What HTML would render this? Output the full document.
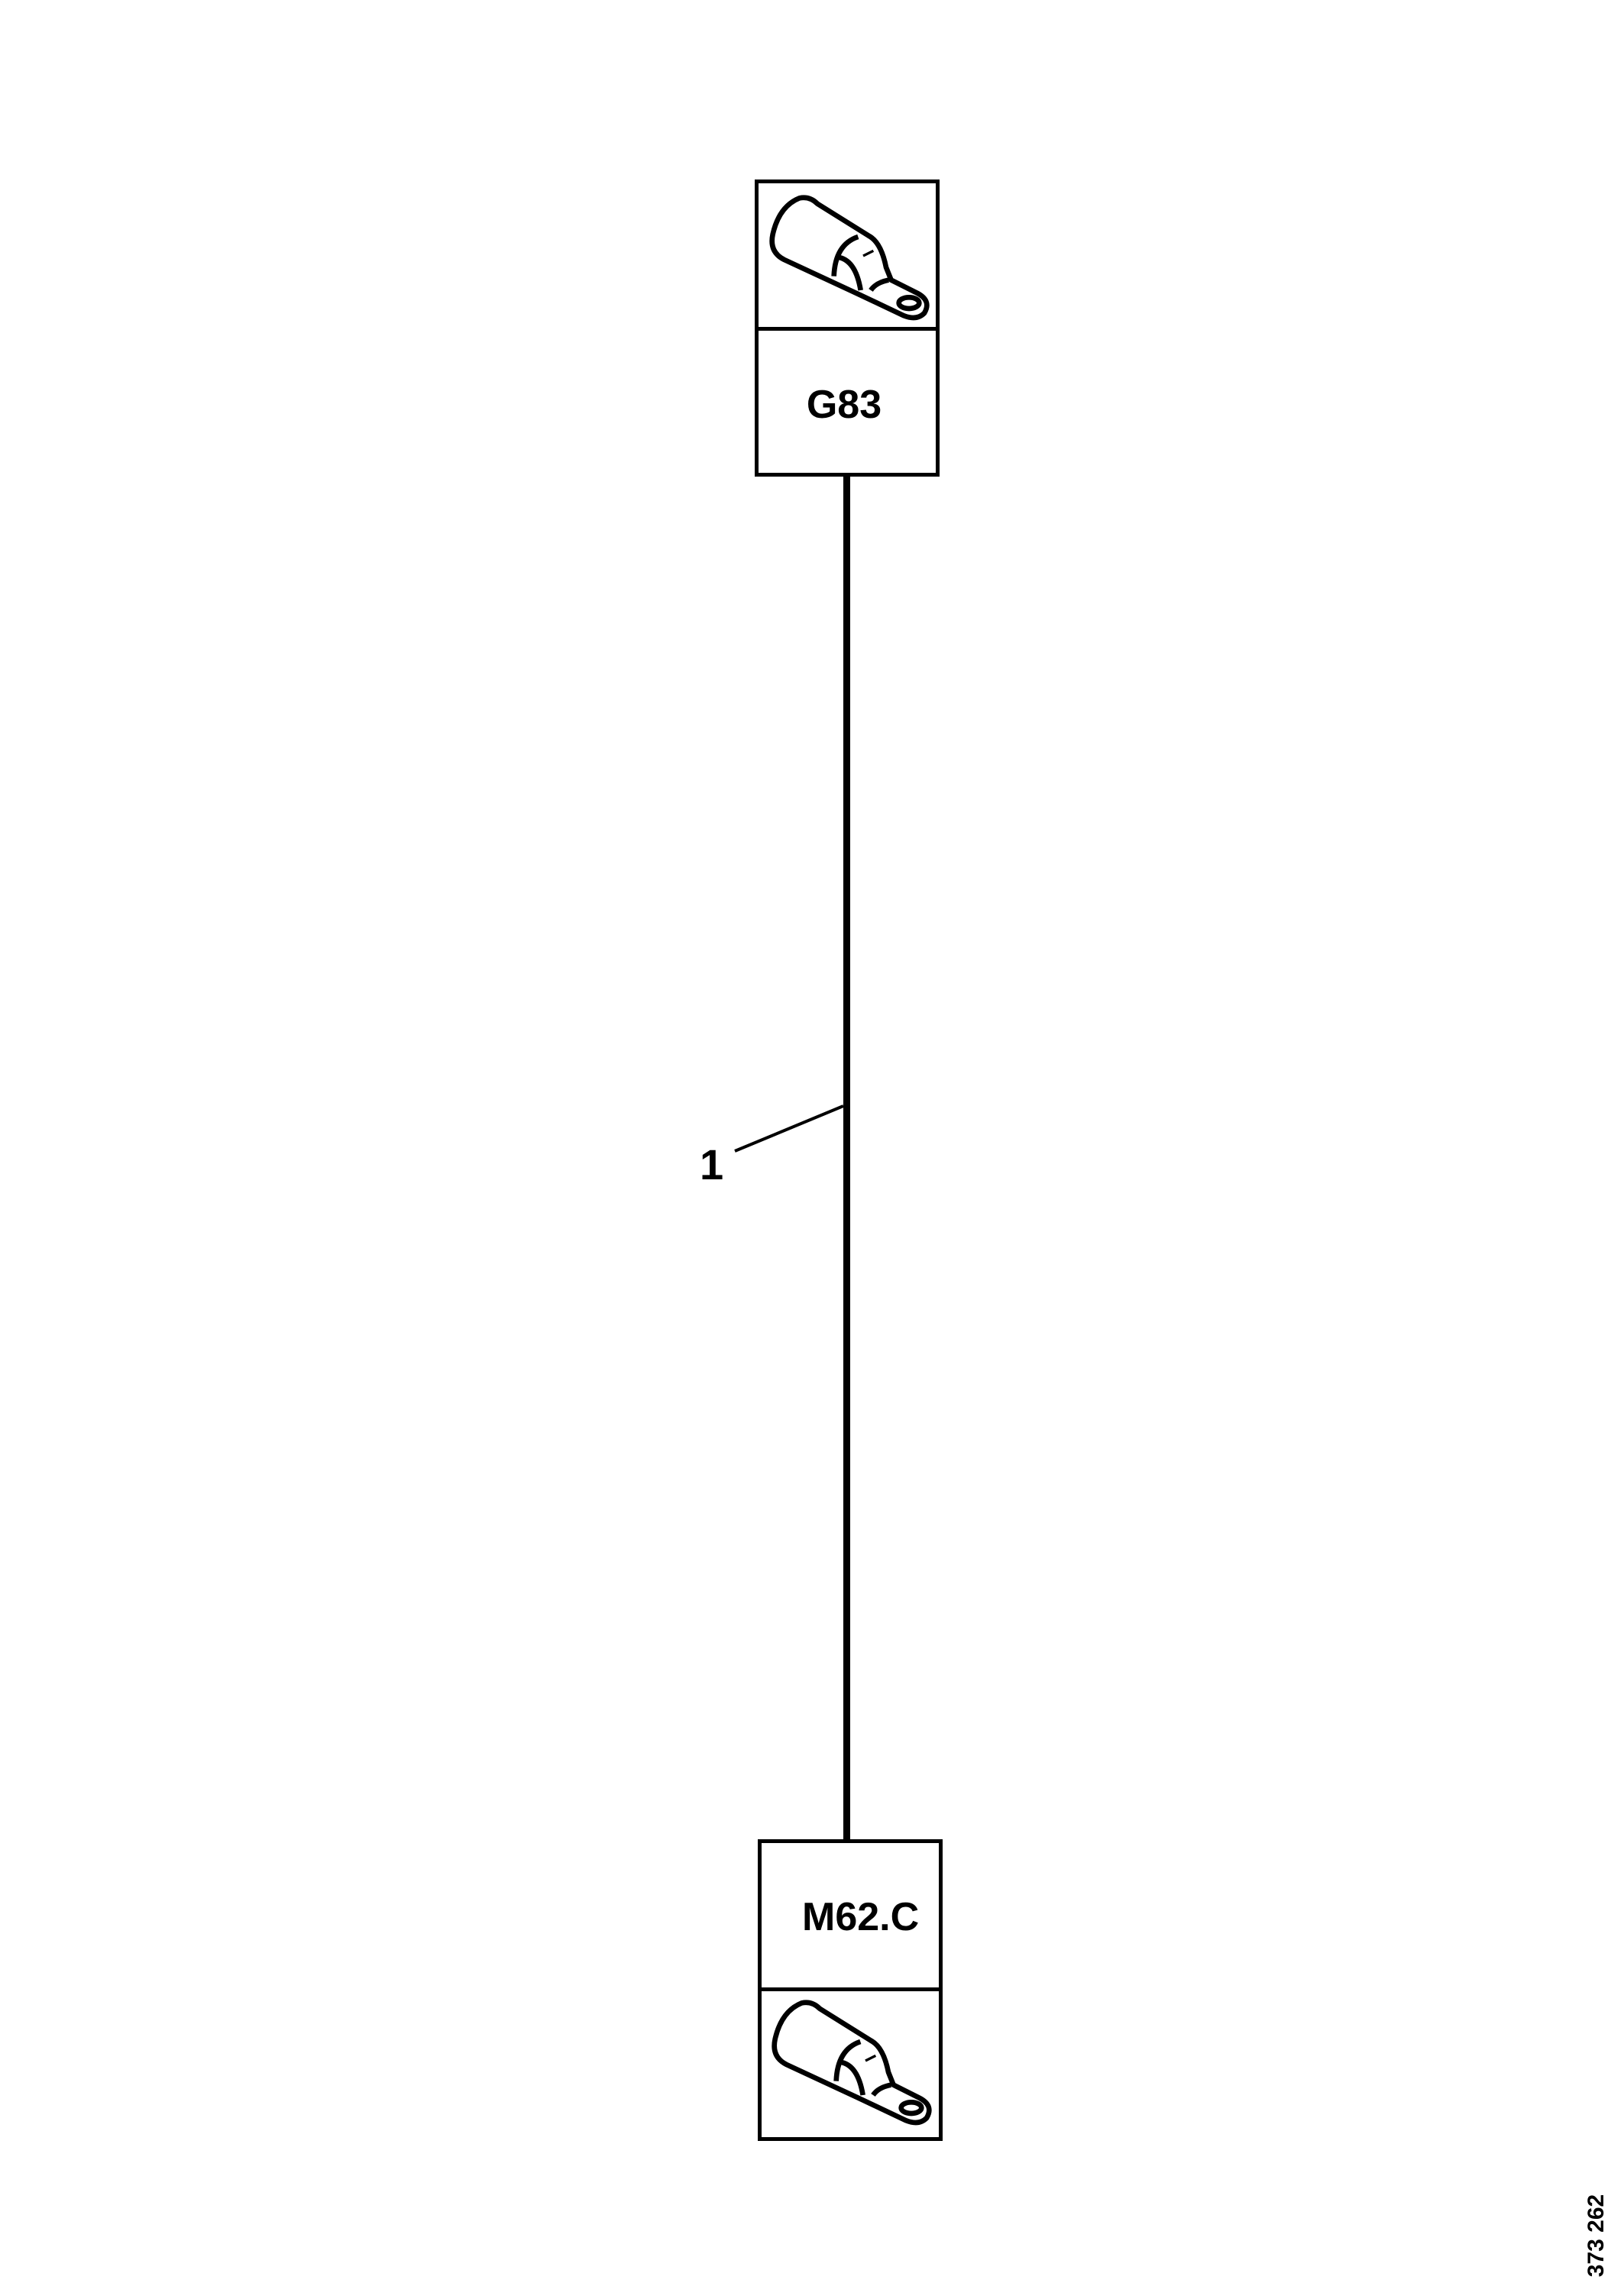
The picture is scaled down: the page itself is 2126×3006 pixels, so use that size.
<!DOCTYPE html>
<html><head><style>
body{margin:0;background:#fff;}
.c{position:relative;width:2126px;height:3006px;overflow:hidden;background:#fff;font-family:"Liberation Sans",sans-serif;}
.box{position:absolute;border:5px solid #000;box-sizing:border-box;}
.t{position:absolute;font-weight:bold;color:#000;}
</style></head><body><div class="c">
<!-- top box -->
<div class="box" style="left:988px;top:235px;width:242px;height:389px;"></div>
<div style="position:absolute;left:988px;top:428px;width:242px;height:5px;background:#000"></div>
<div class="t" style="left:1040px;top:500px;width:130px;text-align:center;font-size:52px;">G83</div>
<!-- bottom box -->
<div class="box" style="left:992px;top:2408px;width:242px;height:395px;"></div>
<div style="position:absolute;left:992px;top:2602px;width:242px;height:5px;background:#000"></div>
<div class="t" style="left:1050px;top:2480px;width:150px;text-align:center;font-size:52px;">M62.C</div>
<!-- wire -->
<div style="position:absolute;left:1104px;top:622px;width:9px;height:1788px;background:#000"></div>
<svg style="position:absolute;left:0;top:0" width="2126" height="3006">
<line x1="1104" y1="1448" x2="962" y2="1507" stroke="#000" stroke-width="4"/>
</svg>
<div style="position:absolute;left:916px;top:1492px;font-size:56px;font-weight:bold;color:#000;">1</div>
<!-- lug icons -->
<svg style="position:absolute;left:980px;top:220px" width="270" height="210" viewBox="0 0 810 630">
<g fill="none" stroke="#000" stroke-width="20" stroke-linejoin="round">
<path d="M200,118 Q240,110 270,140 L470,265 Q520,290 540,390 L560,440 L660,490 Q720,520 690,570 Q660,600 610,580 L420,490 L140,360 Q80,330 95,260 Q120,150 200,118 Z"/>
<path d="M335,425 Q340,300 430,270"/>
<path d="M350,350 Q420,360 440,480"/>
<path d="M480,480 Q500,450 550,440"/>
<ellipse cx="630" cy="530" rx="40" ry="22"/>
<path d="M450,345 L490,325" stroke-width="10"/>
</g>
</svg>
<svg style="position:absolute;left:983px;top:2583px" width="270" height="210" viewBox="0 0 810 630">
<g fill="none" stroke="#000" stroke-width="20" stroke-linejoin="round">
<path d="M200,118 Q240,110 270,140 L470,265 Q520,290 540,390 L560,440 L660,490 Q720,520 690,570 Q660,600 610,580 L420,490 L140,360 Q80,330 95,260 Q120,150 200,118 Z"/>
<path d="M335,425 Q340,300 430,270"/>
<path d="M350,350 Q420,360 440,480"/>
<path d="M480,480 Q500,450 550,440"/>
<ellipse cx="630" cy="530" rx="40" ry="22"/>
<path d="M450,345 L490,325" stroke-width="10"/>
</g>
</svg>
<!-- side code -->
<div class="t" style="left:2030px;top:2910px;width:120px;text-align:center;font-size:30px;transform:rotate(-90deg);transform-origin:center;">373 262</div>
</div></body></html>
